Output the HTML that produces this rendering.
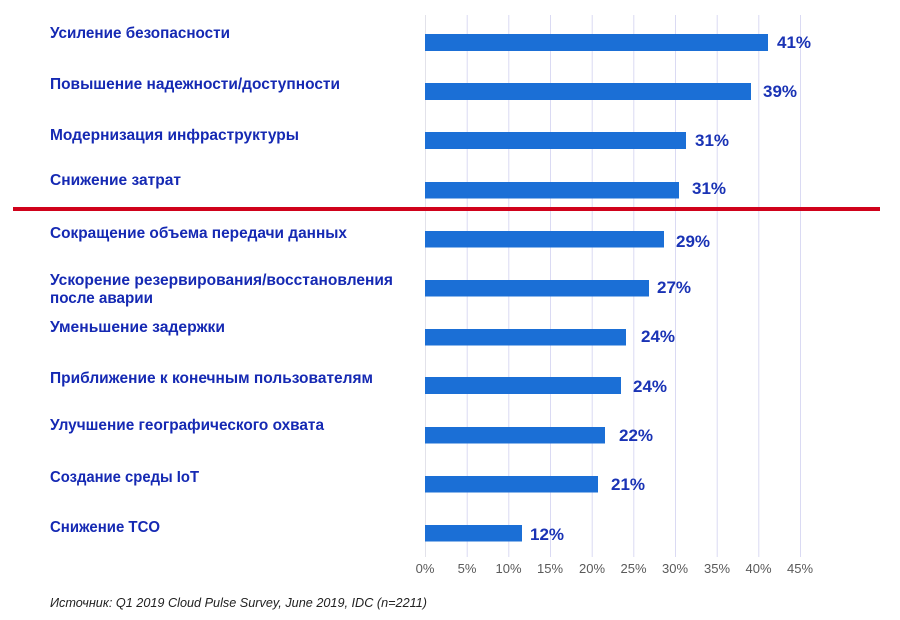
<!DOCTYPE html>
<html>
<head>
<meta charset="utf-8">
<style>
  html,body{margin:0;padding:0;background:#fff;}
  svg{display:block;}
  .cat{font-family:"Liberation Sans","Noto Sans CJK SC",sans-serif;font-weight:bold;font-size:16px;fill:#1529b3;}
  .val{font-family:"Liberation Sans","Noto Sans CJK SC",sans-serif;font-weight:bold;font-size:17px;fill:#1a33b5;}
  .tick{font-family:"Liberation Sans","Noto Sans CJK SC",sans-serif;font-size:13px;fill:#5a5a5a;}
  .src{font-family:"Liberation Sans","Noto Sans CJK SC",sans-serif;font-style:italic;font-size:13px;fill:#222;}
</style>
</head>
<body>
<svg width="900" height="620" viewBox="0 0 900 620" xmlns="http://www.w3.org/2000/svg">
  <rect x="0" y="0" width="900" height="620" fill="#fff"/>
  <!-- gridlines -->
  <g stroke-width="1">
    <line x1="425.5" y1="15" x2="425.5" y2="557" stroke="#e2e2ea"/>
    <line x1="467.2" y1="15" x2="467.2" y2="557" stroke="#dadaf3"/>
    <line x1="508.8" y1="15" x2="508.8" y2="557" stroke="#dadaf3"/>
    <line x1="550.5" y1="15" x2="550.5" y2="557" stroke="#dadaf3"/>
    <line x1="592.2" y1="15" x2="592.2" y2="557" stroke="#dadaf3"/>
    <line x1="633.8" y1="15" x2="633.8" y2="557" stroke="#dadaf3"/>
    <line x1="675.5" y1="15" x2="675.5" y2="557" stroke="#dadaf3"/>
    <line x1="717.2" y1="15" x2="717.2" y2="557" stroke="#dadaf3"/>
    <line x1="758.8" y1="15" x2="758.8" y2="557" stroke="#dadaf3"/>
    <line x1="800.5" y1="15" x2="800.5" y2="557" stroke="#dadaf3"/>
  </g>
  <!-- bars -->
  <g fill="#1b6fd6">
    <rect x="425" y="34" width="343" height="17"/>
    <rect x="425" y="83" width="326" height="17"/>
    <rect x="425" y="132" width="261" height="17"/>
    <rect x="425" y="182" width="254" height="16.5"/>
    <rect x="425" y="231" width="239" height="16.5"/>
    <rect x="425" y="280" width="224" height="16.5"/>
    <rect x="425" y="329" width="201" height="16.5"/>
    <rect x="425" y="377" width="196" height="17"/>
    <rect x="425" y="427" width="180" height="16.5"/>
    <rect x="425" y="476" width="173" height="16.5"/>
    <rect x="425" y="525" width="97" height="16.5"/>
  </g>
  <!-- red separator -->
  <rect x="13" y="207" width="867" height="4" fill="#d0021b"/>
  <!-- category labels -->
  <text class="cat" x="50" y="38" textLength="180" lengthAdjust="spacingAndGlyphs">Усиление безопасности</text>
  <text class="cat" x="50" y="89" textLength="290" lengthAdjust="spacingAndGlyphs">Повышение надежности/доступности</text>
  <text class="cat" x="50" y="140" textLength="249" lengthAdjust="spacingAndGlyphs">Модернизация инфраструктуры</text>
  <text class="cat" x="50" y="185" textLength="131" lengthAdjust="spacingAndGlyphs">Снижение затрат</text>
  <text class="cat" x="50" y="238" textLength="297" lengthAdjust="spacingAndGlyphs">Сокращение объема передачи данных</text>
  <text class="cat" x="50" y="285" textLength="343" lengthAdjust="spacingAndGlyphs">Ускорение резервирования/восстановления</text>
  <text class="cat" x="50" y="303" textLength="103" lengthAdjust="spacingAndGlyphs">после аварии</text>
  <text class="cat" x="50" y="332" textLength="175" lengthAdjust="spacingAndGlyphs">Уменьшение задержки</text>
  <text class="cat" x="50" y="383" textLength="323" lengthAdjust="spacingAndGlyphs">Приближение к конечным пользователям</text>
  <text class="cat" x="50" y="430" textLength="274" lengthAdjust="spacingAndGlyphs">Улучшение географического охвата</text>
  <text class="cat" x="50" y="482" textLength="149" lengthAdjust="spacingAndGlyphs">Создание среды IoT</text>
  <text class="cat" x="50" y="532" textLength="110" lengthAdjust="spacingAndGlyphs">Снижение TCO</text>
  <!-- value labels -->
  <text class="val" x="777" y="48">41%</text>
  <text class="val" x="763" y="97">39%</text>
  <text class="val" x="695" y="146">31%</text>
  <text class="val" x="692" y="194">31%</text>
  <text class="val" x="676" y="247">29%</text>
  <text class="val" x="657" y="293">27%</text>
  <text class="val" x="641" y="342">24%</text>
  <text class="val" x="633" y="392">24%</text>
  <text class="val" x="619" y="441">22%</text>
  <text class="val" x="611" y="490">21%</text>
  <text class="val" x="530" y="540">12%</text>
  <!-- axis ticks -->
  <g class="tick" text-anchor="middle">
    <text x="425" y="573">0%</text>
    <text x="467" y="573">5%</text>
    <text x="508.5" y="573">10%</text>
    <text x="550" y="573">15%</text>
    <text x="592" y="573">20%</text>
    <text x="633.5" y="573">25%</text>
    <text x="675" y="573">30%</text>
    <text x="717" y="573">35%</text>
    <text x="758.5" y="573">40%</text>
    <text x="800" y="573">45%</text>
  </g>
  <!-- source -->
  <text class="src" x="50" y="607" textLength="377" lengthAdjust="spacingAndGlyphs">Источник: Q1 2019 Cloud Pulse Survey, June 2019, IDC (n=2211)</text>
</svg>
</body>
</html>
